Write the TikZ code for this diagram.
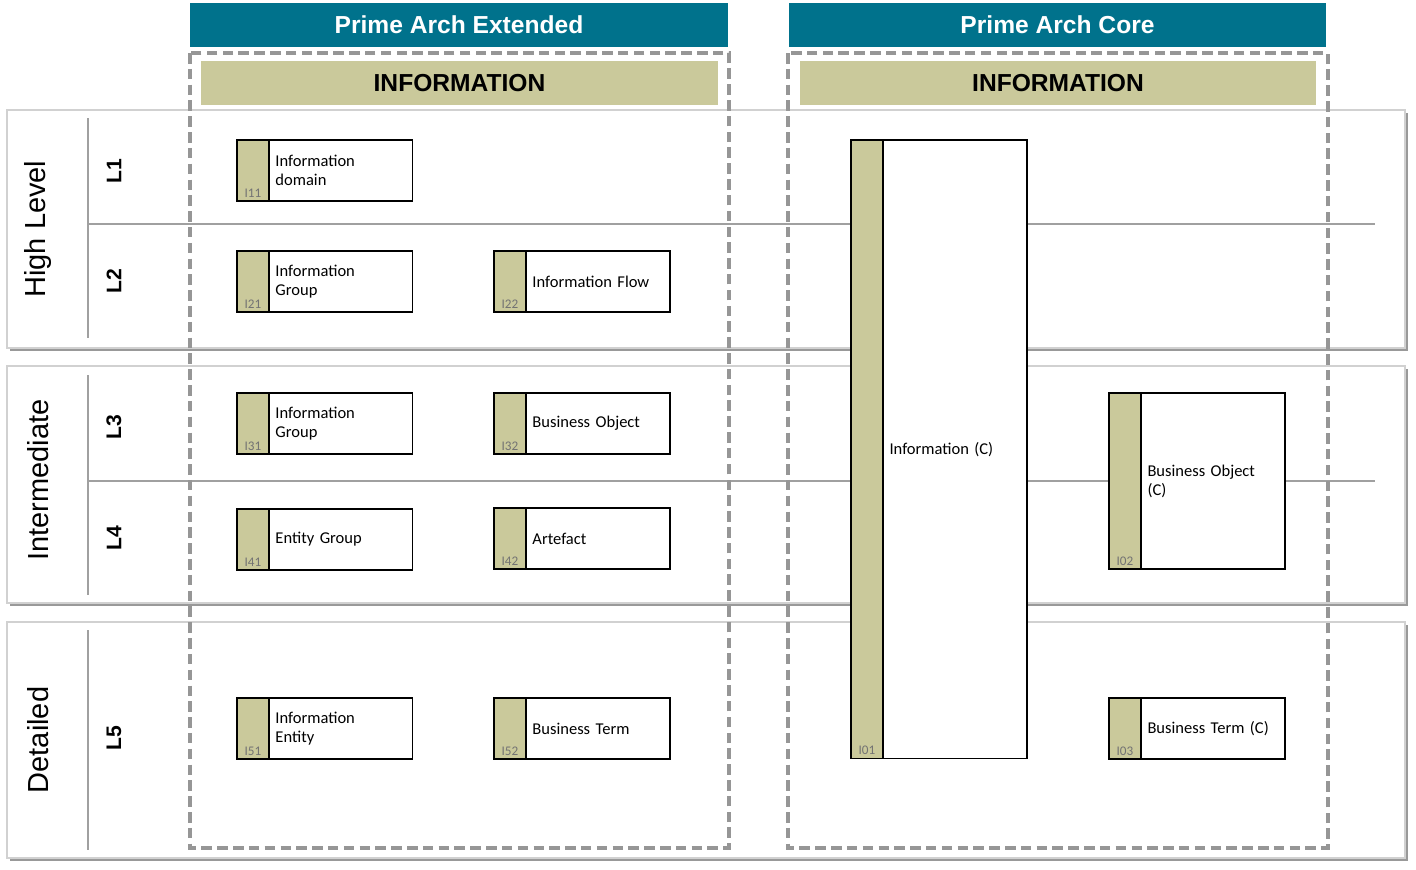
\documentclass[tikz,border=0pt]{standalone}
\usepackage{fontspec}
\setmainfont{Liberation Sans}
\newfontfamily\boxfont{Carlito}
\usetikzlibrary{positioning,shadows}
\definecolor{teal1}{RGB}{0,114,140}
\definecolor{olive1}{RGB}{202,201,155}
\definecolor{grey1}{RGB}{150,150,150}
\definecolor{grey2}{RGB}{160,160,160}
\tikzstyle{band} = [draw=black!18, line width=0.6pt, fill=white,
    drop shadow={shadow xshift=1.8pt, shadow yshift=-1.8pt, fill=black!80}]
\tikzstyle{head} = [rectangle, fill=teal1, text=white, font=\fontsize{14}{16}\selectfont\bfseries,
    minimum width=10.76cm, minimum height=0.88cm]
\tikzstyle{info} = [rectangle, fill=olive1, text=black, font=\fontsize{14}{16}\selectfont\bfseries,
    minimum width=10.34cm, minimum height=0.88cm]
\tikzstyle{dashbox} = [draw=grey1, line width=2.1pt, dash pattern=on 6pt off 3pt]
\tikzstyle{divider} = [draw=grey2, line width=0.8pt]
\tikzstyle{level} = [rotate=90, font=\fontsize{16.5}{19}\selectfont]
\tikzstyle{lnum} = [rotate=90, font=\fontsize{12}{14}\selectfont\bfseries]
\tikzstyle{tab} = [rectangle, draw=black, line width=0.6pt, fill=olive1, outer sep=0pt,
    minimum width=0.64cm, anchor=north west, inner sep=0pt]
\tikzstyle{obj} = [rectangle, draw=black, line width=0.6pt, fill=white, outer sep=0pt,
    minimum width=2.86cm, text width=2.62cm, inner xsep=0.13cm, align=left,
    font=\boxfont\fontsize{9.4}{10.8}\selectfont]
\tikzstyle{idlabel} = [font=\boxfont\fontsize{7.5}{8}\selectfont, text=black!55, anchor=south, inner sep=2pt]
% tab + box: name, x, y, height, id, text
\newcommand{\infobox}[6]{%
    \node (#1tab) [tab, minimum height=#4] at (#2,#3) {};
    \node (#1) [obj, minimum height=#4, right=0pt of #1tab] {#6};
    \node (#1id) [idlabel] at (#1tab.south) {#5};}

\begin{document}
\begin{tikzpicture}[x=0.02cm, y=-0.02cm]
    \useasboundingbox (0,0) rectangle (1416,869);

    % Bands
    \draw [band] (7,110) rectangle (1405,348);
    \draw [band] (7,366) rectangle (1405,603);
    \draw [band] (7,622) rectangle (1405,858);

    % Dividers
    \draw [divider] (88,118) -- (88,338);
    \draw [divider] (88,375) -- (88,595);
    \draw [divider] (88,630) -- (88,850);
    \draw [divider] (88,224) -- (1375,224);
    \draw [divider] (88,481) -- (1375,481);

    % Level labels
    \node (high) [level] at (38,229) {High Level};
    \node (inter) [level] at (38,480) {Intermediate};
    \node (detail) [level] at (38,740) {Detailed};
    \node (l1) [lnum] at (114,171) {L1};
    \node (l2) [lnum] at (114,281) {L2};
    \node (l3) [lnum] at (114,427) {L3};
    \node (l4) [lnum] at (114,538) {L4};
    \node (l5) [lnum] at (114,738) {L5};

    % Columns
    \draw [dashbox] (190,53) rectangle (729,848);
    \draw [dashbox] (788,53) rectangle (1328,848);
    \node (ext) [head] at (459,25) {Prime Arch Extended};
    \node (core) [head] at (1057.5,25) {Prime Arch Core};
    \node (extinfo) [info] at (459.5,83) {INFORMATION};
    \node (coreinfo) [info] at (1058,83) {INFORMATION};

    % Extended
    \infobox{i11}{237}{140}{1.22cm}{I11}{Information\\domain}
    \infobox{i21}{237}{251}{1.22cm}{I21}{Information\\Group}
    \infobox{i22}{494}{251}{1.22cm}{I22}{Information Flow}
    \infobox{i31}{237}{393}{1.22cm}{I31}{Information\\Group}
    \infobox{i32}{494}{393}{1.22cm}{I32}{Business Object}
    \infobox{i41}{237}{509}{1.22cm}{I41}{Entity Group}
    \infobox{i42}{494}{508}{1.22cm}{I42}{Artefact}
    \infobox{i51}{237}{698}{1.22cm}{I51}{Information\\Entity}
    \infobox{i52}{494}{698}{1.22cm}{I52}{Business Term}

    % Core
    \infobox{i01}{851}{140}{12.38cm}{I01}{Information (C)}
    \infobox{i02}{1109}{393}{3.52cm}{I02}{Business Object\\(C)}
    \infobox{i03}{1109}{698}{1.22cm}{I03}{Business Term (C)}
\end{tikzpicture}
\end{document}
